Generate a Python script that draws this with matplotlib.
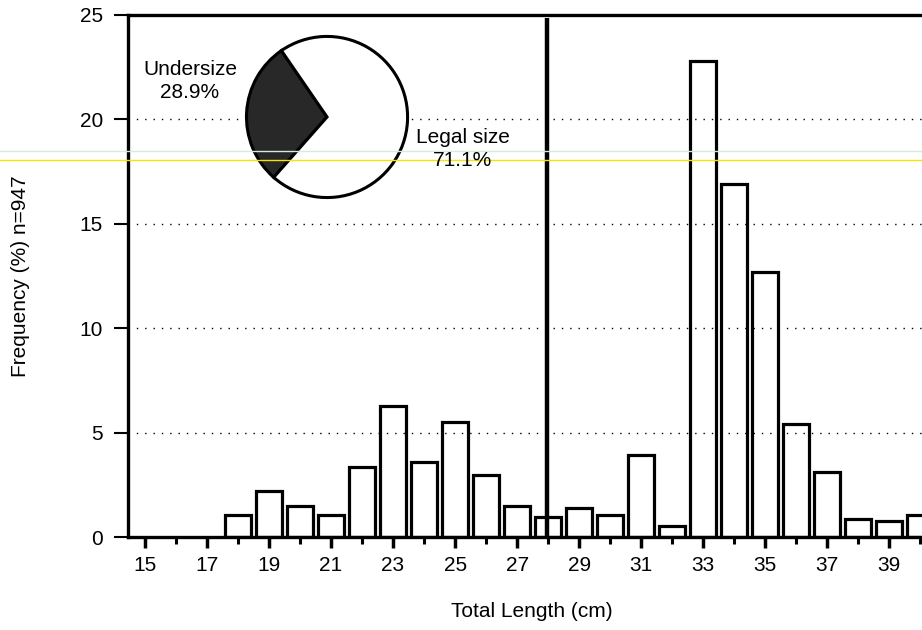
import matplotlib
matplotlib.use("Agg")
import matplotlib.pyplot as plt
from matplotlib.lines import Line2D

plt.rcParams['font.family'] = ['Liberation Sans', 'DejaVu Sans']

# length classes (cm) and frequency (%)
lengths = [18, 19, 20, 21, 22, 23, 24, 25, 26, 27, 28, 29,
           30, 31, 32, 33, 34, 35, 36, 37, 38, 39, 40]
freq = [1.05, 2.2, 1.47, 1.05, 3.36, 6.27, 3.6, 5.5, 2.95, 1.48, 0.94, 1.39,
        1.07, 3.92, 0.54, 22.78, 16.9, 12.68, 5.42, 3.11, 0.86, 0.77, 1.05]

pie_labels = ['Undersize', 'Legal size']
pie_vals = [28.9, 71.1]
legal_limit = 27.95

fs = 15

fig = plt.figure(figsize=(9.22, 6.3), dpi=100)
ax = fig.add_axes([0.1388, 0.1476, 0.8612, 0.8286])

ax.bar(lengths, freq, width=0.85, color='none', edgecolor='black',
       linewidth=2.3, zorder=3)
ax.vlines(legal_limit, 0, 24.85, color='black', linewidth=3.2, zorder=4)

ax.set_xlim(14.45, 40.06)
ax.set_ylim(0, 25)
ax.set_xticks(range(15, 40, 2))
ax.set_xticks(range(16, 41, 2), minor=True)
ax.set_yticks([0, 5, 10, 15, 20, 25])

ax.tick_params(axis='x', which='major', length=8, width=2.5, labelsize=fs, pad=6)
ax.tick_params(axis='x', which='minor', length=5, width=2.2)
ax.tick_params(axis='y', which='major', length=10, width=1.5, labelsize=fs, pad=8)

ax.spines['right'].set_visible(False)
for s in ['left', 'top', 'bottom']:
    ax.spines[s].set_linewidth(2.4)

ax.yaxis.grid(True, linestyle=(0, (1, 5)), color='black', linewidth=1.0, zorder=0)
ax.set_axisbelow(True)

ax.set_xlabel('Total Length (cm)', fontsize=fs, labelpad=22)
ax.xaxis.set_label_coords(0.509, -0.125)
ax.set_ylabel('Frequency (%) n=947', fontsize=fs, labelpad=36)

# pie inset
pax = fig.add_axes([0.3547 - 0.0900, 0.8143 - 0.1317, 0.1800, 0.2634])
pax.pie(pie_vals, colors=['#282828', 'white'], startangle=124.5,
        wedgeprops=dict(edgecolor='black', linewidth=2.2))
pax.set_xlim(-1.03, 1.03)
pax.set_ylim(-1.03, 1.03)
pax.set_aspect('equal')
pax.axis('off')

fig.text(0.206, 0.872, 'Undersize\n%.1f%%' % pie_vals[0], ha='center', va='center',
         fontsize=fs, linespacing=1.25)
fig.text(0.502, 0.763, 'Legal size\n%.1f%%' % pie_vals[1], ha='center', va='center',
         fontsize=fs, linespacing=1.25)

# scan artefact lines
fig.add_artist(Line2D([0, 1], [1 - 151 / 630, 1 - 151 / 630], color='#d5ecd8',
                      linewidth=1.0, transform=fig.transFigure))
fig.add_artist(Line2D([0, 1], [1 - 160 / 630, 1 - 160 / 630], color='#f2e600',
                      linewidth=1.0, transform=fig.transFigure))

fig.savefig('out.png', dpi=100)
